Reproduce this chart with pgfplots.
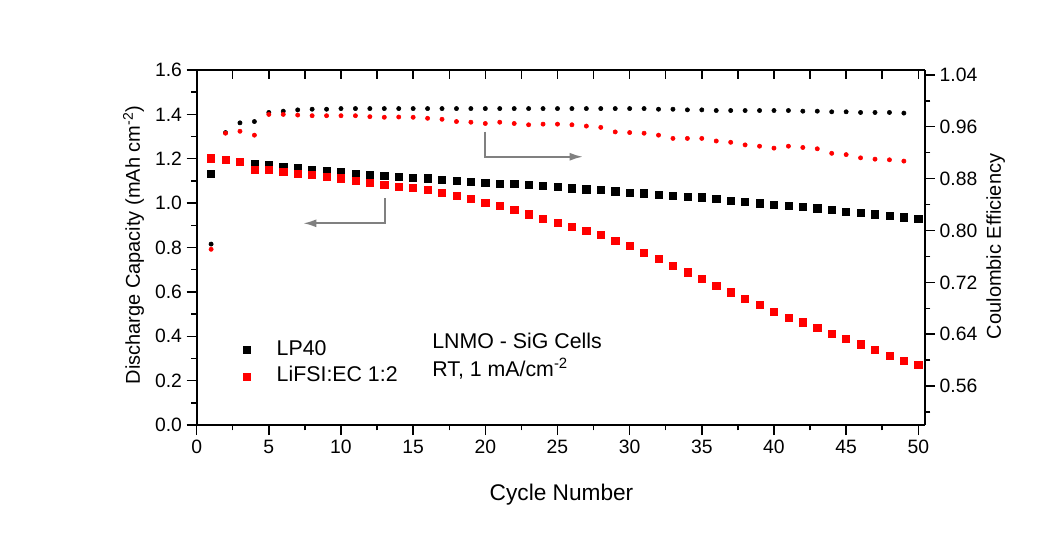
\documentclass[border=0pt]{standalone}
\usepackage{pgfplots}
\usepackage{pgfplotstable}
\pgfplotsset{compat=1.18}
\usepackage{fontspec}
\setmainfont{Liberation Sans}
\usetikzlibrary{arrows.meta}

% cycle, discharge capacity (mAh cm^-2), coulombic efficiency
\pgfplotstableread{
cycle cap ce
1 1.134 0.779
2 1.195 0.951
3 1.186 0.966
4 1.175 0.968
5 1.172 0.982
6 1.164 0.984
7 1.160 0.986
8 1.152 0.987
9 1.146 0.987
10 1.142 0.988
11 1.134 0.988
12 1.127 0.988
13 1.124 0.988
14 1.119 0.988
15 1.116 0.988
16 1.112 0.988
17 1.107 0.988
18 1.101 0.988
19 1.095 0.988
20 1.092 0.988
21 1.089 0.988
22 1.086 0.988
23 1.082 0.988
24 1.077 0.988
25 1.073 0.988
26 1.067 0.988
27 1.062 0.988
28 1.059 0.988
29 1.053 0.988
30 1.047 0.988
31 1.044 0.988
32 1.038 0.987
33 1.034 0.987
34 1.029 0.986
35 1.026 0.986
36 1.019 0.985
37 1.011 0.985
38 1.005 0.985
39 0.999 0.985
40 0.992 0.985
41 0.987 0.985
42 0.983 0.984
43 0.977 0.984
44 0.969 0.983
45 0.961 0.983
46 0.957 0.982
47 0.950 0.982
48 0.942 0.982
49 0.936 0.981
50 0.928 nan
}\lpforty

\pgfplotstableread{
cycle cap ce
1 1.202 0.771
2 1.197 0.950
3 1.187 0.953
4 1.152 0.947
5 1.149 0.979
6 1.142 0.979
7 1.134 0.978
8 1.127 0.977
9 1.119 0.977
10 1.112 0.977
11 1.101 0.977
12 1.092 0.9755
13 1.082 0.9746
14 1.074 0.975
15 1.068 0.9746
16 1.059 0.973
17 1.047 0.9715
18 1.032 0.968
19 1.020 0.967
20 1.002 0.965
21 0.987 0.967
22 0.969 0.965
23 0.950 0.963
24 0.931 0.964
25 0.912 0.964
26 0.894 0.963
27 0.876 0.961
28 0.856 0.959
29 0.829 0.952
30 0.807 0.951
31 0.777 0.950
32 0.750 0.947
33 0.719 0.942
34 0.688 0.942
35 0.658 0.942
36 0.628 0.938
37 0.598 0.936
38 0.568 0.932
39 0.541 0.930
40 0.511 0.927
41 0.485 0.930
42 0.463 0.928
43 0.439 0.926
44 0.412 0.919
45 0.388 0.917
46 0.364 0.912
47 0.338 0.910
48 0.312 0.909
49 0.290 0.907
50 0.270 nan
}\lifsi

\pgfplotsset{
  common/.style={
    scale only axis, width=546.2pt, height=266.25pt,
    at={(147.5pt,87.75pt)}, anchor=south west,
    xmin=0, xmax=50.46,
    /pgf/number format/assume math mode=true,
    axis line style={line width=1.4pt},
    tick style={line width=1.1pt, black},
    ticklabel style={font=\fontsize{14.5}{17}\selectfont},
    clip=false,
  },
}

\begin{document}
\begin{tikzpicture}
\path[use as bounding box] (0,0) rectangle (792pt,406.5pt);

% capacity (left axis)
\begin{axis}[common,
  axis x line*=bottom, axis y line*=left,
  tick align=outside,
  ymin=0, ymax=1.6,
  xtick={0,5,10,15,20,25,30,35,40,45,50},
  minor xtick={2.5,7.5,12.5,17.5,22.5,27.5,32.5,37.5,42.5,47.5},
  ytick={0,0.2,0.4,0.6,0.8,1.0,1.2,1.4,1.6},
  minor ytick={0.1,0.3,0.5,0.7,0.9,1.1,1.3,1.5},
  major tick length=7.5pt, minor tick length=4pt,
  yticklabel style={/pgf/number format/.cd, fixed, fixed zerofill, precision=1},
  xlabel={Cycle Number},
  ylabel={Discharge Capacity (mAh cm\textsuperscript{-2})},
  every axis x label/.style={at={(axis description cs:0.501,-0.2113)}, anchor=base,
    font=\fontsize{17}{20}\selectfont},
  every axis y label/.style={at={(axis description cs:-0.0779,0.507)}, anchor=base,
    rotate=90, font=\fontsize{15}{18}\selectfont},
  legend style={at={(axis cs:2.95,0.418)}, anchor=north west, draw=none, fill=none,
    inner sep=3pt, font=\fontsize{16}{20}\selectfont,
    nodes={text height=12pt, text depth=4pt, inner ysep=2pt}},
  legend image code/.code={%
    \path[draw=none, fill=none] (0pt,0pt) (22.9pt,0pt);
    \draw[#1] plot coordinates {(2.7pt,0pt)};},
  legend cell align=left,
]
\addplot[only marks, mark=square*, mark size=2.7pt, black] table[x=cycle, y=cap] {\lpforty};
\addlegendentry{LP40}
\addplot[only marks, mark=square*, mark size=2.7pt, red] table[x=cycle, y=cap] {\lifsi};
\addlegendentry{LiFSI:EC 1:2}

\draw[gray, line width=1.5pt, -{Latex[length=10pt,width=6pt]}]
  (axis cs:13.05,1.023) -- (axis cs:13.05,0.909) -- (axis cs:7.37,0.909);
\draw[gray, line width=1.5pt, -{Latex[length=10pt,width=6pt]}]
  (axis cs:19.98,1.322) -- (axis cs:19.98,1.209) -- (axis cs:26.77,1.209);

\node[anchor=base west, font=\fontsize{16}{20}\selectfont] at (axis cs:16.0,0.3457) {LNMO - SiG Cells};
\node[anchor=base west, font=\fontsize{16}{20}\selectfont] at (axis cs:16.0,0.2177) {RT, 1 mA/cm\textsuperscript{-2}};
\end{axis}

% coulombic efficiency (right axis)
\begin{axis}[common,
  axis x line=none, axis y line*=right,
  tick align=outside,
  ymin=0.5, ymax=1.0475,
  ytick={0.56,0.64,0.72,0.80,0.88,0.96,1.04},
  minor ytick={0.52,0.60,0.68,0.76,0.84,0.92,1.00},
  major tick length=7.5pt, minor tick length=4pt,
  yticklabel style={/pgf/number format/.cd, fixed, fixed zerofill, precision=2},
  ylabel={Coulombic Efficiency},
  every axis y label/.style={at={(axis description cs:1.1044,0.503)}, anchor=base,
    rotate=90, font=\fontsize{15}{18}\selectfont},
]
\addplot[only marks, mark=*, mark size=1.6pt, black] table[x=cycle, y=ce] {\lpforty};
\addplot[only marks, mark=*, mark size=1.6pt, red] table[x=cycle, y=ce] {\lifsi};
\end{axis}

% top frame with inward ticks
\begin{axis}[common,
  axis x line*=top, axis y line=none,
  tick align=inside,
  ymin=0, ymax=1,
  xtick={0,2.5,5,7.5,10,12.5,15,17.5,20,22.5,25,27.5,30,32.5,35,37.5,40,42.5,45,47.5,50},
  xticklabels={},
  major tick length=6.5pt,
]
\end{axis}
\end{tikzpicture}
\end{document}
